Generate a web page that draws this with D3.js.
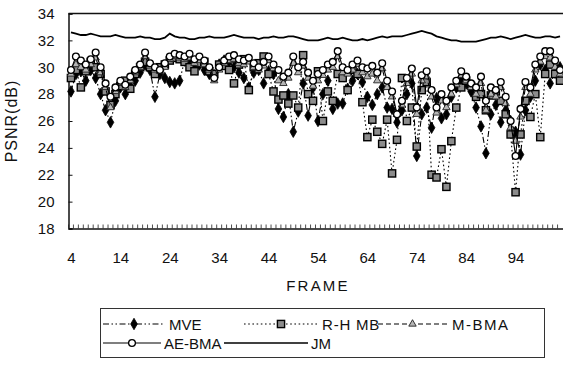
<!DOCTYPE html>
<html>
<head>
<meta charset="utf-8">
<script src="https://cdn.jsdelivr.net/npm/d3@7"></script>
<style>
  body { margin: 0; background: #fff; }
  text { font-family: "Liberation Sans", Arial, sans-serif; fill: #111; }
</style>
</head>
<body>
<svg id="chart" width="563" height="372"></svg>
<script>
// frames 4..103 (category axis)
const frames = d3.range(4, 104);
const tickLabels = [4, 14, 24, 34, 44, 54, 64, 74, 84, 94];
const yTicks = [18, 20, 22, 24, 26, 28, 30, 32, 34];

const mve = [
  28.2,29.5,29.7,29.0,29.8,29.2,28.0,26.8,25.9,27.5,
  28.5,28.0,28.6,29.0,29.6,30.2,29.8,27.8,29.5,29.2,
  28.9,28.8,29.0,30.5,30.6,30.0,30.2,29.8,29.5,29.4,
  30.2,30.5,30.4,30.0,29.6,29.2,28.5,29.6,29.8,28.8,
  29.7,29.5,26.9,26.3,28.0,25.2,26.7,28.8,26.4,28.5,
  26.0,28.0,29.0,26.9,27.3,27.3,28.4,29.0,29.5,28.9,
  27.8,27.2,28.0,28.5,27.0,26.9,25.9,26.8,28.0,28.8,
  23.4,26.5,27.0,25.5,27.7,26.2,26.5,27.8,28.5,29.0,
  28.8,28.2,27.0,25.6,23.6,26.5,27.2,25.9,26.8,26.0,
  25.2,23.5,26.8,27.8,29.0,30.2,29.8,28.8,29.6,30.0
];
const rhmb = [
  29.2,29.8,28.5,29.7,30.4,30.0,29.5,28.2,27.2,28.0,
  28.6,29.0,28.4,29.5,30.0,30.4,30.0,29.5,30.0,30.2,
  30.5,30.7,30.6,30.4,30.0,29.7,30.3,30.4,29.7,29.5,
  30.2,30.1,29.8,28.8,30.2,30.6,28.3,30.0,30.3,30.8,
  29.5,28.2,27.6,27.9,27.3,27.9,27.0,30.9,28.0,27.5,
  29.7,26.0,28.2,27.5,29.5,29.2,28.3,29.8,29.5,27.4,
  24.8,26.1,25.2,24.3,26.1,22.1,24.6,29.2,26.0,27.0,
  24.1,28.3,28.9,22.0,21.8,23.9,21.1,24.5,27.0,28.5,
  29.0,28.6,27.8,28.0,26.8,27.9,28.2,27.5,26.5,25.0,
  20.7,25.0,27.5,26.3,28.0,24.8,29.5,30.2,29.5,29.0
];
const mbma = [
  29.5,30.2,30.0,29.8,30.2,30.7,29.6,28.5,27.0,28.2,
  28.8,28.5,29.0,29.6,30.0,30.8,30.1,29.8,29.7,30.0,
  30.6,30.8,30.7,30.6,30.7,30.3,30.5,30.2,29.8,29.0,
  29.8,30.3,30.5,30.6,30.3,30.2,30.4,30.0,29.8,30.1,
  30.5,29.9,29.0,28.8,29.2,30.3,29.6,30.1,29.2,28.6,
  29.0,29.4,29.8,30.0,30.8,29.6,29.5,29.8,30.2,29.6,
  29.3,29.5,29.0,29.9,28.5,27.8,26.5,27.2,28.8,29.5,
  26.5,29.0,29.3,27.8,26.6,27.5,27.0,28.0,28.7,29.4,
  29.0,28.5,28.0,28.8,26.8,28.0,27.8,28.5,27.3,25.5,
  24.5,26.3,28.5,28.0,29.8,30.4,30.8,30.7,30.0,29.5
];
const aebma = [
  29.8,30.8,30.5,30.2,30.6,31.1,30.0,28.8,27.8,28.5,
  29.0,28.7,29.3,29.8,30.2,31.1,30.3,30.0,29.8,30.3,
  30.8,31.0,30.9,30.8,31.0,30.6,30.8,30.5,30.0,29.2,
  30.0,30.5,30.8,30.9,30.6,30.5,30.7,30.3,30.0,30.4,
  30.8,30.2,29.8,29.3,29.6,30.8,30.0,30.4,29.6,29.0,
  29.5,29.8,30.2,30.4,31.2,30.0,29.8,30.2,30.5,30.0,
  29.9,30.1,29.6,30.3,29.0,28.2,26.5,27.5,29.2,29.9,
  27.0,29.4,29.7,28.3,27.0,28.0,27.5,28.5,29.0,29.7,
  29.3,28.8,28.5,29.3,27.5,28.5,28.3,28.9,27.8,26.0,
  23.4,26.9,28.9,28.5,30.2,30.8,31.2,31.2,30.5,29.8
];
const jm = [
  32.6,32.5,32.4,32.4,32.5,32.4,32.3,32.3,32.3,32.4,
  32.3,32.2,32.2,32.2,32.3,32.2,32.2,32.1,32.1,32.2,
  32.5,32.3,32.2,32.2,32.1,32.1,32.2,32.2,32.3,32.2,
  32.2,32.2,32.3,32.4,32.3,32.2,32.2,32.2,32.1,32.2,
  32.2,32.3,32.2,32.2,32.3,32.3,32.2,32.1,32.0,32.0,
  32.0,32.1,32.2,32.1,32.1,32.2,32.1,32.0,32.0,32.1,
  32.0,32.1,32.2,32.3,32.2,32.3,32.3,32.3,32.4,32.5,
  32.6,32.7,32.6,32.5,32.3,32.2,32.1,32.0,32.0,31.9,
  31.9,31.9,31.9,32.0,32.1,32.2,32.2,32.3,32.2,32.1,
  32.2,32.3,32.4,32.3,32.2,32.2,32.3,32.3,32.2,32.3
];

const series = [
  { name: "MVE", values: mve, dash: "6,2.5,1.5,2.5,1.5,2.5", marker: "diamond" },
  { name: "R-H MB", values: rhmb, dash: "1.6,2.6", marker: "square" },
  { name: "M-BMA", values: mbma, dash: "5,3", marker: "triangle" },
  { name: "AE-BMA", values: aebma, dash: null, marker: "circle" },
  { name: "JM", values: jm, dash: null, marker: null }
];

const svg = d3.select("#chart");
const plotLeft = 68.5, plotRight = 562.5, plotTop = 13.5, plotBottom = 228.5;

const xBand = d3.scaleBand().domain(frames).range([plotLeft, plotRight]);
const x = d3.scalePoint().domain(frames).range([plotLeft, plotRight]).padding(0.5);
const y = d3.scaleLinear().domain([18, 34]).range([plotBottom, plotTop]);

// top border of plot area
svg.append("line")
  .attr("x1", plotLeft).attr("x2", 563)
  .attr("y1", y(34)).attr("y2", y(34))
  .attr("stroke", "#111").attr("stroke-width", 1.6);

// y axis
const yAxis = svg.append("g")
  .attr("transform", `translate(${plotLeft},0)`)
  .call(d3.axisLeft(y).tickValues(yTicks).tickSize(-4).tickPadding(14));
yAxis.select(".domain").attr("stroke", "#111").attr("stroke-width", 1.5);
yAxis.selectAll(".tick line").attr("stroke", "#111");
yAxis.selectAll("text").style("font-size", "15px").attr("fill", "#111");

// x axis: labels
const xAxis = svg.append("g")
  .attr("transform", `translate(0,${plotBottom})`)
  .call(d3.axisBottom(x).tickValues(tickLabels).tickSize(0).tickPadding(24));
xAxis.select(".domain").attr("stroke", "#111").attr("stroke-width", 1.6);
xAxis.selectAll("text").style("font-size", "15px").attr("fill", "#111");

// x axis: category tick marks between categories
svg.append("g").selectAll("line")
  .data(frames)
  .join("line")
  .attr("x1", d => xBand(d)).attr("x2", d => xBand(d))
  .attr("y1", plotBottom).attr("y2", plotBottom - 4)
  .attr("stroke", "#222").attr("stroke-width", 0.8);

// axis titles
svg.append("text")
  .attr("transform", `translate(17,121) rotate(-90)`)
  .attr("text-anchor", "middle")
  .style("font-size", "16px")
  .style("letter-spacing", "1px")
  .text("PSNR(dB)");
svg.append("text")
  .attr("x", 318).attr("y", 291)
  .attr("text-anchor", "middle")
  .style("font-size", "15px")
  .style("letter-spacing", "2.2px")
  .text("FRAME");

// marker drawing
function drawMarker(sel, type) {
  if (type === "diamond") {
    sel.append("path").attr("d", d3.symbol(d3.symbolDiamond, 38)())
      .attr("fill", "#000").attr("stroke", "#000").attr("stroke-width", 0.8);
  } else if (type === "square") {
    sel.append("rect").attr("x", -3.6).attr("y", -3.6).attr("width", 7.2).attr("height", 7.2)
      .attr("fill", "#8c8c8c").attr("stroke", "#000").attr("stroke-width", 1.4);
  } else if (type === "triangle") {
    sel.append("path").attr("d", d3.symbol(d3.symbolTriangle, 24)())
      .attr("fill", "#b5b5b5").attr("stroke", "#222").attr("stroke-width", 0.9);
  } else if (type === "circle") {
    sel.append("circle").attr("r", 3.4)
      .attr("fill", "#fff").attr("stroke", "#000").attr("stroke-width", 1.3);
  }
}

const line = d3.line()
  .x((d, i) => x(frames[i]))
  .y(d => y(d));

series.forEach(s => {
  const g = svg.append("g");
  g.append("path")
    .datum(s.values)
    .attr("fill", "none")
    .attr("stroke", "#000")
    .attr("stroke-width", s.marker ? 1.1 : 1.8)
    .attr("stroke-dasharray", s.dash)
    .attr("d", line);
  if (s.marker) {
    g.selectAll("g.m")
      .data(s.values)
      .join("g")
      .attr("class", "m")
      .attr("transform", (d, i) => `translate(${x(frames[i])},${y(d)})`)
      .each(function () { drawMarker(d3.select(this), s.marker); });
  }
});

// legend
const legend = svg.append("g");
legend.append("rect")
  .attr("x", 100.5).attr("y", 308.5).attr("width", 444).attr("height", 49)
  .attr("fill", "none").attr("stroke", "#333").attr("stroke-width", 1);

const legendItems = [
  { s: series[0], x1: 103, x2: 165, tx: 169, row: 0, ls: 0 },
  { s: series[1], x1: 244, x2: 318, tx: 322, row: 0, ls: 0.8 },
  { s: series[2], x1: 378, x2: 447, tx: 452, row: 0, ls: 1.5 },
  { s: series[3], x1: 103, x2: 161, tx: 164, row: 1, ls: 0 },
  { s: series[4], x1: 224, x2: 308, tx: 311, row: 1, ls: 0 }
];
legendItems.forEach(it => {
  const cy = it.row === 0 ? 324 : 343;
  const g = legend.append("g");
  g.append("line")
    .attr("x1", it.x1).attr("x2", it.x2).attr("y1", cy).attr("y2", cy)
    .attr("stroke", "#000")
    .attr("stroke-width", it.s.marker ? 1.1 : 1.3)
    .attr("stroke-dasharray", it.s.dash);
  if (it.s.marker) {
    const m = g.append("g").attr("transform", `translate(${(it.x1 + it.x2) / 2},${cy})`);
    drawMarker(m, it.s.marker);
  }
  g.append("text")
    .attr("x", it.tx).attr("y", cy + 5.5)
    .style("font-size", "15px")
    .style("letter-spacing", it.ls + "px")
    .text(it.s.name);
});
</script>
</body>
</html>
